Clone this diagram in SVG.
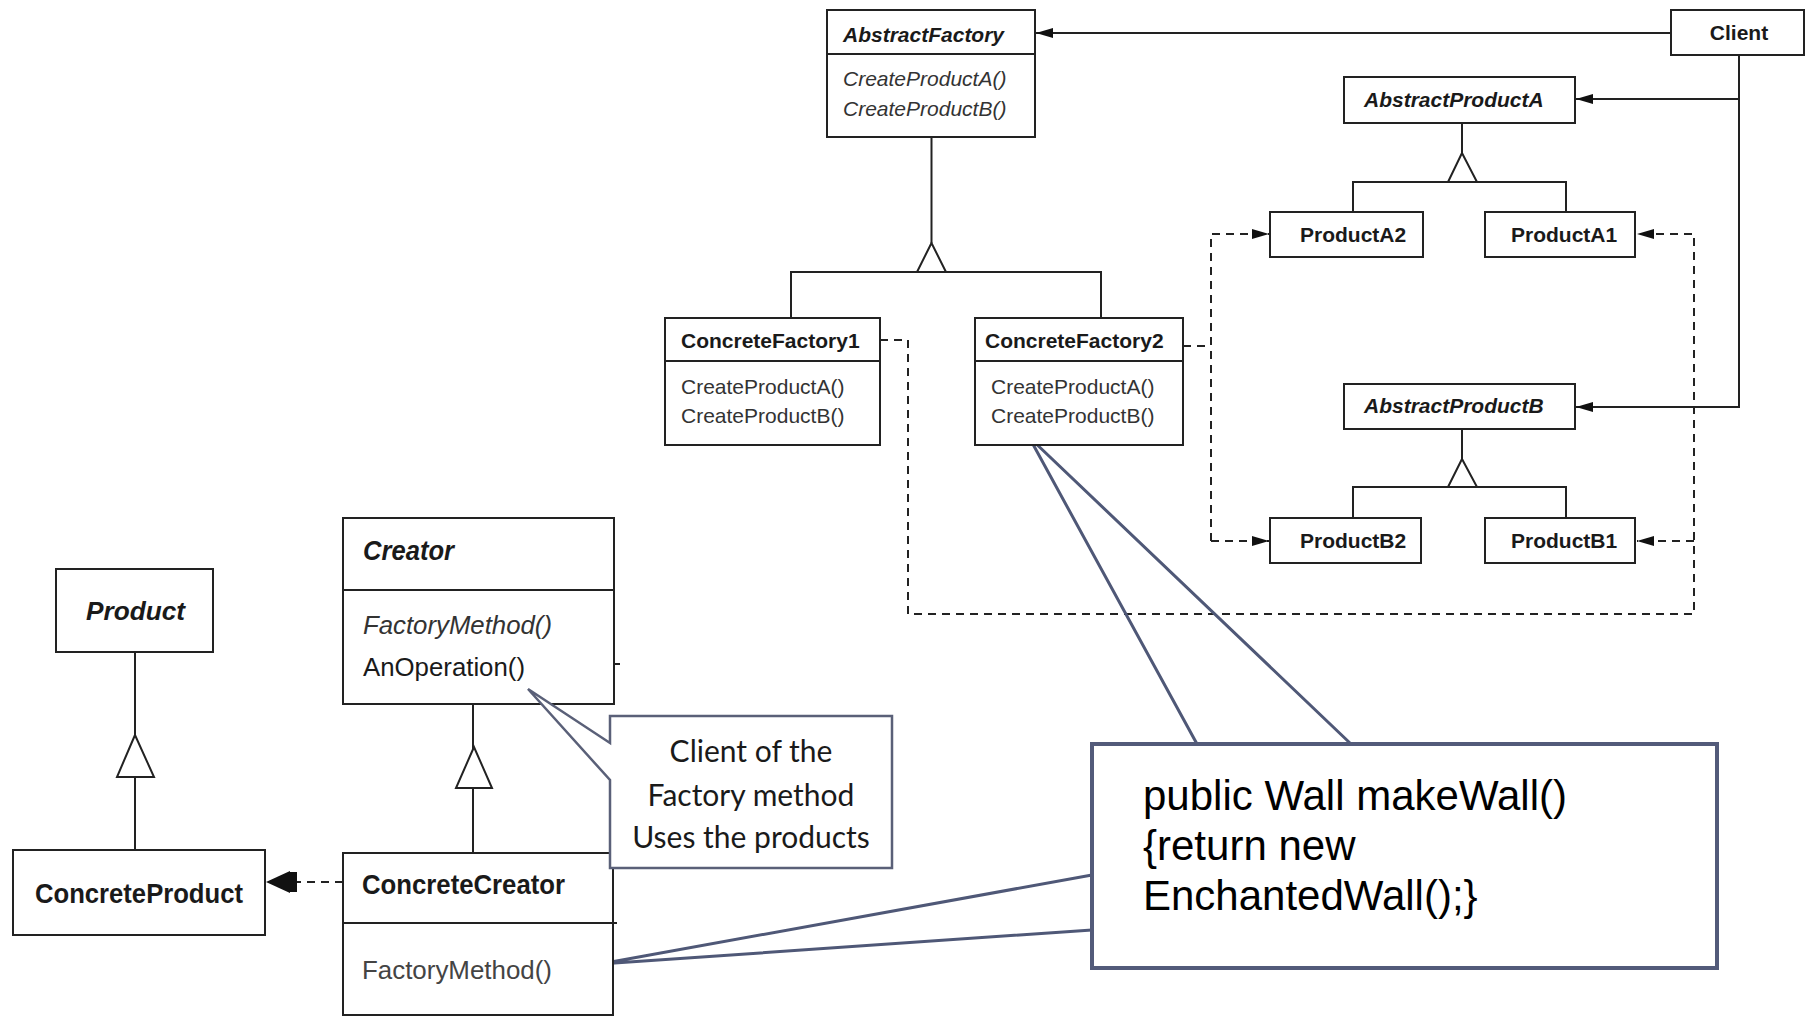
<svg xmlns="http://www.w3.org/2000/svg" width="1805" height="1017" viewBox="0 0 1805 1017">
<style>
.box{fill:#fff;stroke:#222;stroke-width:2}
.ln{fill:none;stroke:#222;stroke-width:2}
.dash{fill:none;stroke:#222;stroke-width:2;stroke-dasharray:8 6}
.tri{fill:#fff;stroke:#222;stroke-width:2}
.t{font-family:"Liberation Sans",Arial,sans-serif;font-size:21px;fill:#1a1a1a}
.b{font-weight:bold}
.i{font-style:italic}
.m{fill:#333}
.big{font-size:26px}
.note{fill:#fff;stroke:#5a6078;stroke-width:2.5}
.bignote{fill:#fff;stroke:#535b7a;stroke-width:4}
.call{fill:none;stroke:#4f5877;stroke-width:3}
.nt{font-family:Lato,"Open Sans",sans-serif;font-size:30px;fill:#1a1a1a;text-anchor:middle}
.code{font-family:"Liberation Sans",Arial,sans-serif;font-size:42px;fill:#000}
</style>
<defs>
<marker id="arr" markerWidth="18" markerHeight="12" refX="17" refY="6" orient="auto" markerUnits="userSpaceOnUse">
<path d="M0,1 L17,6 L0,11 Z" fill="#111"/>
</marker>
</defs>

<g id="connectors">
<line class="ln" x1="1671" y1="33" x2="1036" y2="33" marker-end="url(#arr)"/>
<polyline class="ln" points="1739,55 1739,407 1576,407" marker-end="url(#arr)"/>
<line class="ln" x1="1739" y1="99" x2="1576" y2="99" marker-end="url(#arr)"/>
<line class="ln" x1="931.5" y1="137" x2="931.5" y2="243"/>
<polyline class="ln" points="791,317 791,272 1101,272 1101,317"/>
<polygon class="tri" points="931.5,243 917,272 946,272"/>
<line class="ln" x1="1462" y1="123" x2="1462" y2="153"/>
<polyline class="ln" points="1353,212 1353,182 1566,182 1566,212"/>
<polygon class="tri" points="1462,153 1448,182 1477,182"/>
<line class="ln" x1="1462" y1="429" x2="1462" y2="459"/>
<polyline class="ln" points="1353,518 1353,487 1566,487 1566,518"/>
<polygon class="tri" points="1462,459 1448,487 1477,487"/>
<polyline class="dash" points="880,340 908,340 908,614 1694,614 1694,234 1637,234" marker-end="url(#arr)"/>
<line class="dash" x1="1694" y1="541" x2="1637" y2="541" marker-end="url(#arr)"/>
<line class="dash" x1="1183" y1="346" x2="1211" y2="346"/>
<polyline class="dash" points="1211,541 1211,234 1269,234" marker-end="url(#arr)"/>
<line class="dash" x1="1211" y1="541" x2="1269" y2="541" marker-end="url(#arr)"/>
<line class="ln" x1="135" y1="652" x2="135" y2="850"/>
<polygon class="tri" points="135,735 117,777 154,777"/>
<line class="ln" x1="473" y1="704" x2="473" y2="853"/>
<polygon class="tri" points="474,747 456,788 492,788"/>
<line class="dash" x1="343" y1="882" x2="294" y2="882"/>
<polygon points="266,882 290,871 290,893" fill="#111"/>
<rect x="289" y="872" width="8" height="20" fill="#111"/>
<line class="ln" x1="614" y1="664" x2="620" y2="664"/>
<polyline class="call" points="1197,744 1029,437 1351,744"/>
<polyline class="call" points="1092,875 600,964 1092,930"/>
</g>

<g id="AbstractFactory">
<rect class="box" x="827" y="10" width="208" height="127"/>
<line class="ln" x1="827" y1="54" x2="1035" y2="54"/>
<text class="t b i" x="843" y="42">AbstractFactory</text>
<text class="t i m" x="843" y="86">CreateProductA()</text>
<text class="t i m" x="843" y="116">CreateProductB()</text>
</g>

<g id="Client">
<rect class="box" x="1671" y="10" width="133" height="45"/>
<text class="t b" x="1739" y="40" text-anchor="middle">Client</text>
</g>

<g id="AbstractProductA">
<rect class="box" x="1344" y="77" width="231" height="46"/>
<text class="t b i" x="1364" y="107">AbstractProductA</text>
</g>

<g id="ProductA2">
<rect class="box" x="1270" y="212" width="153" height="45"/>
<text class="t b" x="1300" y="242">ProductA2</text>
</g>

<g id="ProductA1">
<rect class="box" x="1485" y="212" width="150" height="45"/>
<text class="t b" x="1511" y="242">ProductA1</text>
</g>

<g id="ConcreteFactory1">
<rect class="box" x="665" y="318" width="215" height="127"/>
<line class="ln" x1="665" y1="361" x2="880" y2="361"/>
<text class="t b" x="681" y="348">ConcreteFactory1</text>
<text class="t m" x="681" y="394">CreateProductA()</text>
<text class="t m" x="681" y="423">CreateProductB()</text>
</g>

<g id="ConcreteFactory2">
<rect class="box" x="975" y="318" width="208" height="127"/>
<line class="ln" x1="975" y1="361" x2="1183" y2="361"/>
<text class="t b" x="985" y="348">ConcreteFactory2</text>
<text class="t m" x="991" y="394">CreateProductA()</text>
<text class="t m" x="991" y="423">CreateProductB()</text>
</g>

<g id="AbstractProductB">
<rect class="box" x="1344" y="384" width="231" height="45"/>
<text class="t b i" x="1364" y="413">AbstractProductB</text>
</g>

<g id="ProductB2">
<rect class="box" x="1270" y="518" width="151" height="45"/>
<text class="t b" x="1300" y="548">ProductB2</text>
</g>

<g id="ProductB1">
<rect class="box" x="1485" y="518" width="150" height="45"/>
<text class="t b" x="1511" y="548">ProductB1</text>
</g>

<g id="Product">
<rect class="box" x="56" y="569" width="157" height="83"/>
<text class="t b i big" x="86" y="620" textLength="99" lengthAdjust="spacingAndGlyphs">Product</text>
</g>

<g id="ConcreteProduct">
<rect class="box" x="13" y="850" width="252" height="85"/>
<text class="t b" x="35" y="903" style="font-size:28px" textLength="208" lengthAdjust="spacingAndGlyphs">ConcreteProduct</text>
</g>

<g id="Creator">
<rect class="box" x="343" y="518" width="271" height="186"/>
<line class="ln" x1="343" y1="590" x2="614" y2="590"/>
<text class="t b i" x="363" y="560" style="font-size:27px" textLength="91" lengthAdjust="spacingAndGlyphs">Creator</text>
<text class="t i big m" x="363" y="634" textLength="189" lengthAdjust="spacingAndGlyphs">FactoryMethod()</text>
<text class="t big" x="363" y="676" textLength="162" lengthAdjust="spacingAndGlyphs">AnOperation()</text>
</g>

<g id="ConcreteCreator">
<rect class="box" x="343" y="853" width="270" height="162"/>
<line class="ln" x1="343" y1="923" x2="617" y2="923"/>
<text class="t b" x="362" y="894" style="font-size:27px" textLength="203" lengthAdjust="spacingAndGlyphs">ConcreteCreator</text>
<text class="t big" x="362" y="979" style="fill:#444" textLength="190" lengthAdjust="spacingAndGlyphs">FactoryMethod()</text>
</g>

<g id="NoteClient">
<path class="note" d="M610,716 L892,716 L892,868 L610,868 L610,780 L528,689 L610,743 Z"/>
<text class="nt" x="751" y="762">Client of the</text>
<text class="nt" x="751" y="806">Factory method</text>
<text class="nt" x="751" y="848">Uses the products</text>
</g>

<g id="NoteMakeWall">
<rect class="bignote" x="1092" y="744" width="625" height="224"/>
<text class="code" x="1143" y="810">public Wall makeWall()</text>
<text class="code" x="1143" y="860">{return new</text>
<text class="code" x="1143" y="910">EnchantedWall();}</text>
</g>
</svg>
